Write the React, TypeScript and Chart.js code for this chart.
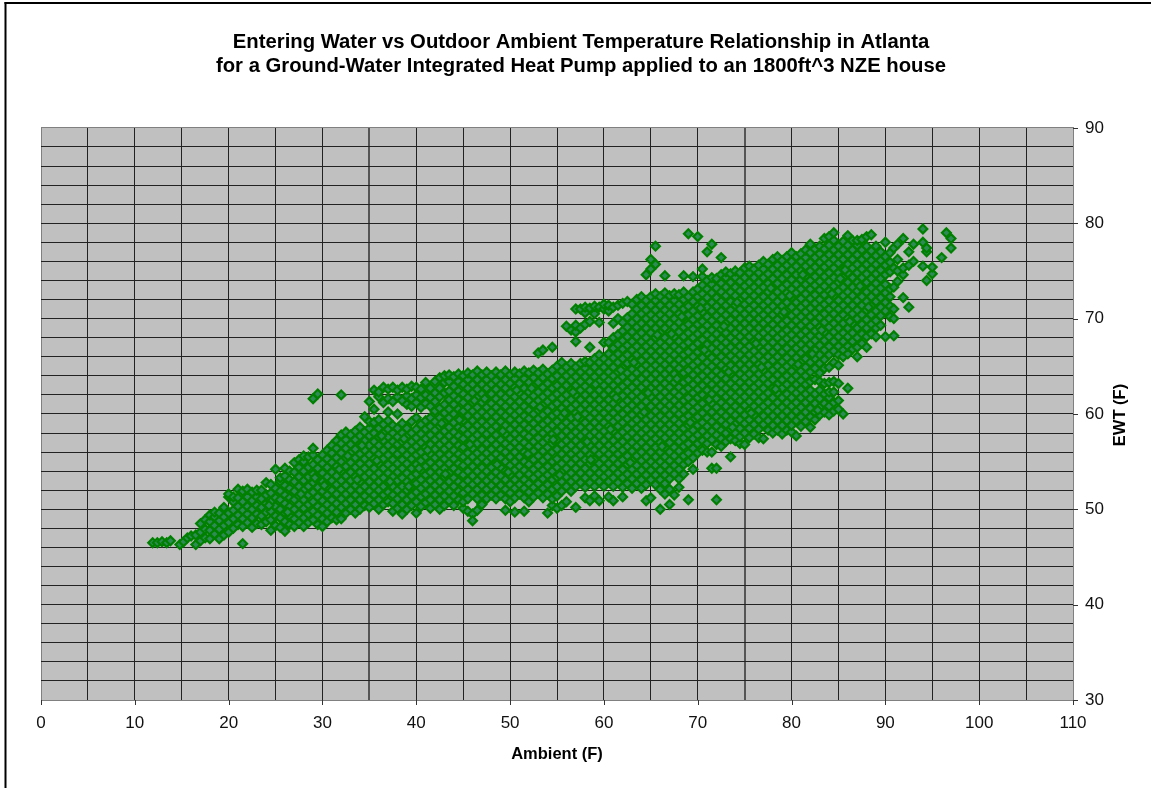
import React, { useEffect, useRef } from "react";
import { Chart, registerables } from "chart.js";

Chart.register(...registerables);

const titleLines = [
  "Entering Water vs Outdoor Ambient Temperature Relationship in Atlanta",
  "for a Ground-Water Integrated Heat Pump applied to an 1800ft^3 NZE house",
];
const xAxisLabel = "Ambient (F)";
const yAxisLabel = "EWT (F)";

// Each row: ambient value, then the EWT values read at that ambient.
const coldRows = [
  [11.9, 46.5], [12.4, 46.5], [12.9, 46.6], [13.4, 46.5], [13.8, 46.7], [14.8, 46.3], [15.2, 46.6], [15.6, 47], [16, 47.2],
  [16.5, 46.3, 47.3], [17, 46.7, 47.6, 48.5], [17.5, 47, 47.9, 48.9], [18, 46.9, 47.8, 48.7, 49.4],
  [18.5, 47.4, 48.3, 49.2, 49.7], [19, 46.9, 47.9, 48.8, 49.6], [19.5, 47.3, 48.3, 49.2, 50.2],
  [20, 47.6, 48.6, 49.6, 51.3, 51.6], [20.5, 48, 49, 49.9, 50.8, 51.3], [21, 48.4, 49.4, 50.3, 51.2, 52.1],
  [21.5, 46.4, 48.2, 49, 49.9, 50.8, 51.9], [22, 48.6, 49.5, 50.3, 51.3, 52.1], [22.5, 48.1, 49.1, 50, 50.9, 51.8],
  [23, 48.5, 49.5, 50.4, 51.3, 52], [23.5, 48.4, 49.3, 50.2, 51.1, 52], [24, 48.7, 49.7, 50.6, 51.5, 52.8],
  [24.5, 47.8, 48.9, 49.8, 50.8, 51.7, 52.6], [25, 48.3, 49.3, 50.3, 51.2, 52.2, 54.2],
  [25.5, 48.1, 49.1, 50, 51, 51.9, 52.9, 53.3], [26, 47.7, 48.7, 49.6, 50.6, 51.5, 52.5, 53.5, 54.3],
  [26.5, 48.4, 49.3, 50.3, 51.2, 52.2, 53.1, 54], [27, 48.2, 49, 50, 51, 51.9, 52.9, 53.9, 54.9],
  [27.5, 48.6, 49.5, 50.5, 51.4, 52.4, 53.4, 54.4, 55.2], [28, 48.2, 49.1, 50.1, 51, 52, 53, 54, 55, 55.6],
  [28.5, 48.6, 49.5, 50.5, 51.5, 52.4, 53.4, 54.4, 55.5], [29, 48.9, 49.8, 50.8, 51.8, 52.8, 53.7, 54.7, 55.7, 56.4, 61.6],
  [29.5, 48.4, 49.4, 50.3, 51.3, 52.3, 53.3, 54.3, 55.2, 62.1], [30, 48.2, 49, 50, 50.9, 51.9, 52.9, 53.8, 54.8, 55.7],
  [30.5, 48.7, 49.6, 50.5, 51.5, 52.4, 53.4, 54.4, 55.3, 56.2], [31, 49.1, 50.1, 51, 52, 53, 53.9, 54.9, 55.9, 56.7],
  [31.5, 48.9, 49.7, 50.6, 51.6, 52.6, 53.5, 54.5, 55.4, 56.4, 57.2], [32, 49, 50.2, 51.1, 52.1, 53, 54, 55, 55.9, 56.9, 57.8, 62],
  [32.5, 49.6, 50.6, 51.6, 52.5, 53.5, 54.5, 55.4, 56.4, 57.3, 58.1], [33, 50, 51, 52, 53, 53.9, 54.9, 55.9, 56.8, 57.8],
  [33.5, 49.6, 50.5, 51.5, 52.5, 53.4, 54.4, 55.4, 56.3, 57.3, 58.2], [34, 50, 51, 52, 52.9, 53.9, 54.8, 55.8, 56.8, 57.7, 58.6],
  [34.5, 50.4, 51.4, 52.4, 53.4, 54.3, 55.3, 56.2, 57.2, 58.1, 59.7], [35, 50.2, 51, 51.9, 52.9, 53.8, 54.8, 55.7, 56.7, 57.7, 58.5, 59.2, 61.3],
];

const coolRows = [
  [35.5, 50.6, 51.5, 52.4, 53.4, 54.3, 55.3, 56.2, 57.1, 58, 59.1, 60.5, 62.5], [36, 50, 51, 52, 52.9, 53.8, 54.8, 55.8, 56.7, 57.6, 58.5, 59.4, 61.8, 62.3],
  [36.5, 50.5, 51.5, 52.4, 53.3, 54.3, 55.3, 56.2, 57.2, 58, 58.9, 61.2, 62.8], [37, 50.8, 51.8, 52.8, 53.8, 54.7, 55.7, 56.7, 57.6, 58.4, 59.3, 60.2, 61.6, 62.6],
  [37.5, 49.8, 50.6, 51.5, 52.4, 53.4, 54.3, 55.2, 56.2, 57.1, 58, 58.8, 61.3, 62.8], [38, 50.1, 51.1, 52, 53, 53.9, 54.8, 55.8, 56.8, 57.6, 58.5, 60, 61.8, 62.5],
  [38.5, 49.5, 50.5, 51.5, 52.4, 53.3, 54.3, 55.2, 56.2, 57.1, 58, 59, 61.4, 62.8], [39, 50, 51, 52, 52.9, 53.8, 54.8, 55.7, 56.7, 57.6, 58.5, 61, 61.9, 62.6],
  [39.5, 50.4, 51.4, 52.4, 53.4, 54.3, 55.3, 56.2, 57.1, 58, 59.2, 60.8, 61.6, 62.9], [40, 49.6, 50.8, 51.8, 52.7, 53.7, 54.7, 55.7, 56.6, 57.5, 58.4, 59.6, 61.2, 62, 62.8],
  [40.5, 50.3, 51.3, 52.2, 53.1, 54.1, 55.1, 56, 57, 57.9, 58.9, 60.7, 61.7, 62.6], [41, 50.7, 51.6, 52.6, 53.6, 54.5, 55.5, 56.5, 57.4, 58.4, 59.3, 61.1, 62, 63.3],
  [41.5, 50.1, 51, 52, 53, 53.9, 54.9, 55.8, 56.8, 57.8, 58.7, 59.6, 60.8, 61.7, 62.7], [42, 50.5, 51.5, 52.5, 53.4, 54.4, 55.4, 56.3, 57.3, 58.3, 59.2, 60.3, 61.3, 62.2, 63.4],
  [42.5, 50, 51, 52, 52.9, 53.9, 54.8, 55.8, 56.8, 57.7, 58.7, 59.6, 60.6, 61.8, 62.7, 63.8], [43, 50.4, 51.4, 52.4, 53.4, 54.3, 55.3, 56.3, 57.2, 58.2, 59.1, 60.1, 61, 62.2, 63.3, 64],
  [43.5, 50.9, 51.9, 52.9, 53.8, 54.8, 55.7, 56.7, 57.7, 58.6, 59.6, 60.5, 61.5, 62.4, 63.4, 64.1], [44, 50.4, 51.4, 52.4, 53.3, 54.3, 55.3, 56.2, 57.2, 58.1, 59.1, 60, 61, 61.9, 62.9, 63.9],
  [44.5, 51, 51.9, 52.9, 53.9, 54.8, 55.8, 56.7, 57.7, 58.6, 59.6, 60.5, 61.5, 62.4, 63.4, 64.2], [45, 50.1, 50.8, 51.7, 52.6, 53.6, 54.6, 55.5, 56.5, 57.4, 58.4, 59.3, 60.3, 61.2, 62.1, 63.1, 64],
  [45.5, 49.8, 51.1, 52.1, 53, 54, 55, 55.9, 56.9, 57.9, 58.8, 59.8, 60.7, 61.7, 62.7, 63.6, 64.3], [46, 49.5, 48.8, 51.6, 52.6, 53.5, 54.5, 55.5, 56.4, 57.4, 58.3, 59.3, 60.3, 61.2, 62.2, 63.1, 64.1],
  [46.5, 49.9, 51.1, 52.1, 53, 54, 55, 55.9, 56.9, 57.8, 58.8, 59.8, 60.7, 61.7, 62.6, 63.6, 64.5], [47, 50.5, 51.5, 52.5, 53.5, 54.4, 55.4, 56.3, 57.3, 58.3, 59.2, 60.2, 61.2, 62.1, 63.1, 64.1],
  [47.5, 51.1, 52.1, 53, 54, 55, 55.9, 56.9, 57.9, 58.8, 59.8, 60.7, 61.7, 62.7, 63.6, 64.4], [48, 51.5, 52.5, 53.4, 54.4, 55.4, 56.3, 57.3, 58.3, 59.2, 60.2, 61.1, 62.1, 63.1, 64],
  [48.5, 51.1, 52, 53, 53.9, 54.9, 55.8, 56.8, 57.8, 58.7, 59.7, 60.7, 61.6, 62.6, 63.5, 64.4], [49, 51.5, 52.5, 53.5, 54.4, 55.4, 56.3, 57.3, 58.3, 59.2, 60.2, 61.2, 62.1, 63.1, 64.1],
  [49.5, 49.9, 51.1, 52.1, 53.1, 54, 55, 56, 56.9, 57.9, 58.8, 59.8, 60.8, 61.7, 62.7, 63.6, 64.5], [50, 50.8, 51.7, 52.6, 53.6, 54.6, 55.5, 56.5, 57.4, 58.4, 59.4, 60.3, 61.3, 62.2, 63.2, 64.1],
  [50.5, 49.7, 51.2, 52.2, 53.1, 54.1, 55, 56, 57, 57.9, 58.9, 59.9, 60.8, 61.8, 62.8, 63.7, 64.4], [51, 51.6, 52.6, 53.6, 54.5, 55.5, 56.5, 57.4, 58.4, 59.4, 60.3, 61.3, 62.2, 63.2, 64.2],
  [51.5, 49.8, 51.2, 52.2, 53.1, 54.1, 55, 56, 57, 57.9, 58.9, 59.8, 60.8, 61.8, 62.7, 63.7, 64.5], [52, 50.8, 51.8, 52.7, 53.7, 54.7, 55.6, 56.6, 57.6, 58.5, 59.5, 60.4, 61.4, 62.3, 63.3, 64.3],
  [52.5, 51.3, 52.3, 53.3, 54.2, 55.2, 56.1, 57.1, 58.1, 59, 60, 61, 61.9, 62.9, 63.8, 64.6], [53, 51.7, 52.7, 53.7, 54.6, 55.6, 56.6, 57.5, 58.5, 59.5, 60.4, 61.4, 62.3, 63.3, 64.3, 66.4],
  [53.5, 51.2, 52.2, 53.2, 54.1, 55.1, 56.1, 57, 58, 58.9, 59.9, 60.9, 61.8, 62.8, 63.8, 64.7, 66.7], [54, 49.6, 51.6, 52.6, 53.6, 54.5, 55.5, 56.5, 57.4, 58.4, 59.3, 60.3, 61.3, 62.2, 63.2, 64.2],
  [54.5, 50.4, 51.1, 52.1, 53.1, 54, 55, 56, 56.9, 57.9, 58.8, 59.8, 60.8, 61.7, 62.7, 63.7, 64.6, 67], [55, 50.1, 51.4, 52.4, 53.4, 54.4, 55.3, 56.3, 57.3, 58.2, 59.2, 60.1, 61.1, 62.1, 63, 64, 65],
];

const mildRows = [
  [55.5, 50.4, 51.9, 52.9, 53.9, 54.8, 55.8, 56.8, 57.7, 58.7, 59.7, 60.6, 61.6, 62.5, 63.5, 64.5, 65.4], [56, 50.8, 52.4, 53.4, 54.3, 55.3, 56.3, 57.2, 58.2, 59.1, 60.1, 61.1, 62, 63, 64, 64.9, 69.2],
  [56.5, 51.9, 52.9, 53.8, 54.8, 55.8, 56.7, 57.7, 58.7, 59.6, 60.6, 61.5, 62.5, 63.5, 64.4, 65.3, 68.8], [57, 50.2, 52.4, 53.3, 54.3, 55.3, 56.2, 57.2, 58.1, 59.1, 60.1, 61, 62, 63, 63.9, 64.9, 67.6, 68.6, 69.3, 71],
  [57.5, 52.8, 53.8, 54.8, 55.7, 56.7, 57.7, 58.6, 59.6, 60.5, 61.5, 62.5, 63.4, 64.4, 65.3, 69, 71], [58, 51.2, 52.3, 53.3, 54.3, 55.2, 56.2, 57.2, 58.1, 59.1, 60, 61, 62, 62.9, 63.9, 64.8, 65.5, 69.4, 70.6, 71.2],
  [58.5, 50.9, 52.8, 53.8, 54.8, 55.7, 56.7, 57.7, 58.6, 59.6, 60.5, 61.5, 62.5, 63.4, 64.4, 65.4, 67, 69.7, 71.1], [59, 51.4, 52.4, 53.3, 54.3, 55.2, 56.2, 57.2, 58.1, 59.1, 60.1, 61, 62, 63, 63.9, 64.9, 65.8, 70.5, 71.3],
  [59.5, 50.9, 52.9, 53.8, 54.8, 55.8, 56.7, 57.7, 58.6, 59.6, 60.6, 61.5, 62.5, 63.4, 64.4, 65.4, 66.2, 69.6, 71.2], [60, 52.4, 53.4, 54.3, 55.3, 56.2, 57.2, 58.2, 59.1, 60.1, 61, 62, 63, 63.9, 64.9, 65.8, 67.5, 71, 71.5],
  [60.5, 51.3, 52.9, 53.8, 54.8, 55.8, 56.7, 57.7, 58.7, 59.6, 60.6, 61.5, 62.5, 63.5, 64.4, 65.4, 66.3, 67.5, 70.8, 71.4], [61, 50.9, 52.4, 53.3, 54.3, 55.3, 56.3, 57.2, 58.2, 59.2, 60.1, 61.1, 62, 63, 64, 64.9, 65.9, 66.9, 68, 69.5, 71.2],
  [61.5, 52.8, 53.8, 54.8, 55.8, 56.7, 57.7, 58.7, 59.6, 60.6, 61.5, 62.5, 63.5, 64.4, 65.4, 66.3, 67.3, 68.3, 70, 71.4], [62, 51.3, 52.3, 53.3, 54.2, 55.2, 56.2, 57.1, 58.1, 59.1, 60, 61, 61.9, 62.9, 63.9, 64.8, 65.8, 66.8, 67.7, 68.7, 69.6, 71.6],
  [62.5, 52.7, 53.7, 54.7, 55.6, 56.6, 57.6, 58.5, 59.5, 60.5, 61.4, 62.4, 63.3, 64.3, 65.3, 66.2, 67.2, 68.1, 69.1, 70.1, 71.8], [63, 52.2, 53.2, 54.2, 55.1, 56.1, 57, 58, 59, 59.9, 60.9, 61.9, 62.8, 63.8, 64.7, 65.7, 66.7, 67.6, 68.6, 69.6, 70.5, 71.5],
  [63.5, 52.7, 53.7, 54.6, 55.6, 56.6, 57.5, 58.5, 59.4, 60.4, 61.4, 62.3, 63.3, 64.3, 65.2, 66.2, 67.1, 68.1, 69.1, 70, 71, 72], [64, 52.2, 53.1, 54.1, 55.1, 56, 57, 58, 58.9, 59.9, 60.8, 61.8, 62.8, 63.7, 64.7, 65.6, 66.6, 67.6, 68.5, 69.5, 70.5, 71.4, 72.3],
  [64.5, 50.9, 52.6, 53.6, 54.6, 55.5, 56.5, 57.5, 58.4, 59.4, 60.3, 61.3, 62.3, 63.2, 64.2, 65.1, 66.1, 67.1, 68, 69, 70, 70.9, 71.9, 74.6], [65, 51.2, 53.1, 54.1, 55, 56, 57, 57.9, 58.9, 59.8, 60.8, 61.8, 62.7, 63.7, 64.7, 65.6, 66.6, 67.5, 68.5, 69.5, 70.4, 71.4, 72.3, 75.2, 76.2],
  [65.5, 52.6, 53.6, 54.6, 55.5, 56.5, 57.4, 58.4, 59.4, 60.3, 61.3, 62.3, 63.2, 64.2, 65.1, 66.1, 67.1, 68, 69, 70, 70.9, 71.9, 72.6, 75.7, 77.6], [66, 50, 52.1, 53.1, 54.1, 55, 56, 57, 57.9, 58.9, 59.8, 60.8, 61.8, 62.7, 63.7, 64.7, 65.6, 66.6, 67.5, 68.5, 69.5, 70.4, 71.4, 72.3],
  [66.5, 51.6, 52.7, 53.6, 54.6, 55.5, 56.5, 57.5, 58.4, 59.4, 60.4, 61.3, 62.3, 63.2, 64.2, 65.2, 66.1, 67.1, 68, 69, 70, 70.9, 71.9, 72.7, 74.5], [67, 50.5, 52.1, 53.2, 54.1, 55.1, 56, 57, 58, 58.9, 59.9, 60.9, 61.8, 62.8, 63.7, 64.7, 65.7, 66.6, 67.6, 68.6, 69.5, 70.5, 71.4, 72.4],
  [67.5, 51.5, 53.7, 54.6, 55.6, 56.5, 57.5, 58.5, 59.4, 60.4, 61.4, 62.3, 63.3, 64.2, 65.2, 66.2, 67.1, 68.1, 69.1, 70, 71, 71.9, 72.6], [68, 52.3, 53.2, 54.2, 55.1, 56.1, 57.1, 58, 59, 60, 60.9, 61.9, 62.8, 63.8, 64.8, 65.7, 66.7, 67.6, 68.6, 69.6, 70.5, 71.5, 72.5],
  [68.5, 53.7, 54.7, 55.6, 56.6, 57.5, 58.5, 59.5, 60.4, 61.4, 62.4, 63.3, 64.3, 65.3, 66.2, 67.2, 68.1, 69.1, 70.1, 71, 72, 72.8, 74.5], [69, 51, 55, 55.9, 56.9, 57.9, 58.8, 59.8, 60.8, 61.7, 62.7, 63.6, 64.6, 65.6, 66.5, 67.5, 68.5, 69.4, 70.4, 71.3, 72.3, 78.9],
  [69.5, 54.2, 55.4, 56.4, 57.4, 58.3, 59.3, 60.3, 61.2, 62.2, 63.1, 64.1, 65.1, 66, 67, 68, 68.9, 69.9, 70.8, 71.8, 72.8, 74.4], [70, 55.9, 56.9, 57.8, 58.8, 59.7, 60.7, 61.7, 62.6, 63.6, 64.6, 65.5, 66.5, 67.4, 68.4, 69.4, 70.3, 71.3, 72.3, 73.1, 78.6],
  [70.5, 56.2, 57.2, 58.2, 59.1, 60.1, 61.1, 62, 63, 64, 64.9, 65.9, 66.8, 67.8, 68.8, 69.7, 70.7, 71.7, 72.6, 73.5, 74.4, 75.2], [71, 56, 56.9, 57.7, 58.7, 59.6, 60.6, 61.6, 62.5, 63.5, 64.5, 65.4, 66.4, 67.3, 68.3, 69.3, 70.2, 71.2, 72.2, 73.1, 74, 77],
];

const warmRows = [
  [71.5, 54.3, 56, 57.3, 58.2, 59.2, 60.2, 61.1, 62.1, 63.1, 64, 65, 65.9, 66.9, 67.9, 68.8, 69.8, 70.8, 71.7, 72.7, 73.6, 74.3, 77.8], [72, 51, 54.3, 56.8, 57.8, 58.7, 59.7, 60.7, 61.6, 62.6, 63.6, 64.5, 65.5, 66.5, 67.4, 68.4, 69.3, 70.3, 71.3, 72.2, 73.2, 74.2],
  [72.5, 56.6, 57.4, 58.3, 59.3, 60.2, 61.2, 62.2, 63.1, 64.1, 65.1, 66, 67, 67.9, 68.9, 69.9, 70.8, 71.8, 72.8, 73.7, 74.6, 76.4], [73, 57.1, 58, 58.9, 59.8, 60.8, 61.8, 62.7, 63.7, 64.7, 65.6, 66.6, 67.5, 68.5, 69.5, 70.4, 71.4, 72.4, 73.3, 74.3, 74.9],
  [73.5, 55.5, 57.4, 58.4, 59.3, 60.3, 61.3, 62.2, 63.2, 64.2, 65.1, 66.1, 67, 68, 69, 69.9, 70.9, 71.8, 72.8, 73.8, 74.7], [74, 57.2, 58, 58.9, 59.9, 60.8, 61.8, 62.8, 63.7, 64.7, 65.7, 66.6, 67.6, 68.5, 69.5, 70.5, 71.4, 72.4, 73.3, 74.3, 75],
  [74.5, 56.9, 57.6, 58.5, 59.4, 60.4, 61.4, 62.3, 63.3, 64.2, 65.2, 66.2, 67.1, 68.1, 69, 70, 71, 71.9, 72.9, 73.9, 74.8], [75, 56.8, 58, 59, 59.9, 60.9, 61.8, 62.8, 63.8, 64.7, 65.7, 66.7, 67.6, 68.6, 69.5, 70.5, 71.5, 72.4, 73.4, 74.3, 75.3],
  [75.5, 57.5, 58.5, 59.4, 60.4, 61.3, 62.3, 63.3, 64.2, 65.2, 66.2, 67.1, 68.1, 69, 70, 71, 71.9, 72.9, 73.8, 74.8, 75.5], [76, 57.9, 58.9, 59.9, 60.8, 61.8, 62.8, 63.7, 64.7, 65.7, 66.6, 67.6, 68.5, 69.5, 70.5, 71.4, 72.4, 73.3, 74.3, 75.2],
  [76.5, 57.5, 58.4, 59.4, 60.4, 61.3, 62.3, 63.2, 64.2, 65.2, 66.1, 67.1, 68.1, 69, 70, 70.9, 71.9, 72.9, 73.8, 74.8, 75.6], [77, 57.4, 58.9, 59.8, 60.8, 61.8, 62.7, 63.7, 64.6, 65.6, 66.6, 67.5, 68.5, 69.5, 70.4, 71.4, 72.3, 73.3, 74.3, 75.2, 76],
  [77.5, 58.3, 59.3, 60.3, 61.2, 62.2, 63.2, 64.1, 65.1, 66, 67, 68, 68.9, 69.9, 70.9, 71.8, 72.8, 73.7, 74.7, 75.7], [78, 58, 58.8, 59.8, 60.7, 61.7, 62.7, 63.6, 64.6, 65.6, 66.5, 67.5, 68.5, 69.4, 70.4, 71.3, 72.3, 73.3, 74.2, 75.2, 76.2],
  [78.5, 58.3, 59.3, 60.3, 61.2, 62.2, 63.1, 64.1, 65, 66, 67, 68, 68.9, 69.9, 70.8, 71.8, 72.8, 73.7, 74.7, 75.6, 76.5], [79, 57.9, 58.8, 59.8, 60.7, 61.7, 62.7, 63.6, 64.6, 65.5, 66.5, 67.5, 68.4, 69.4, 70.4, 71.3, 72.3, 73.2, 74.2, 75.2, 76.1],
  [79.5, 58.3, 59.3, 60.3, 61.2, 62.1, 63.1, 64, 65, 65.9, 66.9, 67.9, 68.8, 69.8, 70.8, 71.7, 72.7, 73.6, 74.6, 75.6, 76.5], [80, 58.1, 58.8, 59.8, 60.8, 61.7, 62.6, 63.6, 64.5, 65.4, 66.4, 67.4, 68.3, 69.3, 70.3, 71.2, 72.2, 73.1, 74.1, 75.1, 76, 76.9],
  [80.5, 57.7, 59.3, 60.3, 61.2, 62.2, 63.1, 64, 65, 65.9, 66.9, 67.8, 68.8, 69.8, 70.7, 71.7, 72.7, 73.6, 74.6, 75.5, 76.5], [81, 58.7, 59.7, 60.7, 61.7, 62.6, 63.5, 64.5, 65.4, 66.4, 67.3, 68.3, 69.3, 70.2, 71.2, 72.1, 73.1, 74.1, 75, 76, 76.8],
  [81.5, 59.2, 60.2, 61.2, 62.1, 63.1, 64, 64.9, 65.8, 66.8, 67.8, 68.7, 69.7, 70.7, 71.6, 72.6, 73.6, 74.5, 75.5, 76.4, 77.2], [82, 58.6, 59.7, 60.6, 61.6, 62.5, 63.4, 64.4, 65.4, 66.3, 67.3, 68.2, 69.2, 70.2, 71.1, 72.1, 73.1, 74, 75, 75.9, 76.9, 77.8],
  [82.5, 59.4, 60.2, 61.1, 62.1, 63.6, 64.8, 65.8, 66.7, 67.7, 68.7, 69.6, 70.6, 71.6, 72.5, 73.5, 74.4, 75.4, 76.4, 77.3], [83, 59.9, 60.7, 61.6, 62.5, 63.4, 64.3, 65.3, 66.2, 67.2, 68.2, 69.1, 70.1, 71.1, 72, 73, 73.9, 74.9, 75.9, 76.8, 77.6],
  [83.5, 60.2, 61.1, 62.1, 63.2, 64.8, 65.7, 66.7, 67.7, 68.6, 69.6, 70.5, 71.5, 72.5, 73.4, 74.4, 75.4, 76.3, 77.3, 78.4], [84, 59.9, 60.8, 61.7, 62.3, 63.3, 64.9, 66.2, 67.1, 68.1, 69.1, 70, 71, 71.9, 72.9, 73.9, 74.8, 75.8, 76.7, 77.7, 78.6],
  [84.5, 60.3, 61.2, 62.3, 63.4, 65.4, 66.6, 67.6, 68.6, 69.5, 70.5, 71.4, 72.4, 73.4, 74.3, 75.3, 76.2, 77.2, 78.2, 79], [85, 60.5, 61.4, 63.2, 65.1, 66.2, 67.1, 68.1, 69, 70, 71, 71.9, 72.9, 73.8, 74.8, 75.8, 76.7, 77.6],
  [85.5, 60, 66, 66.7, 67.6, 68.5, 69.5, 70.4, 71.4, 72.4, 73.3, 74.3, 75.2, 76.2, 77.2, 78.1], [86, 62.7, 66.3, 67.1, 68.1, 69, 70, 70.9, 71.9, 72.8, 73.8, 74.8, 75.7, 76.7, 77.7, 78.7],
  [86.5, 66.8, 67.6, 68.5, 69.5, 70.5, 71.4, 72.4, 73.3, 74.3, 75.3, 76.2, 77.2, 78.2], [87, 66, 67, 68, 69, 70, 70.9, 71.9, 72.9, 73.8, 74.8, 75.7, 76.7, 77.7, 78.2],
  [87.5, 67.4, 68.4, 69.4, 70.4, 71.4, 72.3, 73.3, 74.3, 75.2, 76.2, 77.2, 78.3], [88, 67, 68.1, 69, 69.9, 70.9, 71.8, 72.8, 73.8, 74.7, 75.7, 76.6, 77.6, 78.6],
  [88.5, 68.4, 69.4, 70.4, 71.3, 72.3, 73.2, 74.2, 75.2, 76.1, 77.1, 78.8], [89, 68.1, 69, 69.8, 70.8, 71.8, 72.8, 73.7, 74.7, 75.7, 76.6, 77.6],
  [89.5, 69.3, 70.3, 71.2, 72.2, 73.2, 74.2, 75.1, 76.1, 77],
  [90, 68.1, 70.8, 71.7, 72.7, 73.6, 74.6, 75.6, 76.5, 78], [90.5, 70.2, 71.3, 72.3, 73.1, 74.9, 75.9, 76.9],
  [90.9, 68.2, 70, 71, 73.3, 75.3, 77.4], [91.3, 73.9, 75, 76.2, 77.8], [91.9, 72.2, 74.6, 75.3, 78.4],
  [92.5, 71.2, 75.6, 77], [93, 76, 77.8], [94, 75.5, 78, 79.4], [94.4, 74, 77, 77.4], [95, 74.7, 75.4], [96, 76.4], [96.5, 79], [97, 77.4, 78.4],
];

// Loose points read on top of the dense mass.
const looseAmbient = [24.3, 27.7, 30.2, 31.8, 33.7, 34.2, 35.8, 37.2, 38.7, 40.3, 41.2, 43.1, 44.6, 45.7, 47.3, 48.6, 49.2, 50.7, 51.9, 53.2, 54.6, 55.3, 56.7, 57.2, 58.6, 59.1, 60.7, 61.3, 62.8, 63.2, 64.3, 65.7, 66.2, 67.8, 68.3, 69.2, 70.7, 71.2, 72.8, 73.3, 74.2, 75.7, 76.2, 77.8, 78.3, 79.2, 80.7, 81.2, 82.8, 83.2, 84.3, 85.7, 86.2, 87.3, 88.2, 26.3, 29.2, 32.7, 36.3, 39.2, 42.7, 46.2, 49.8, 52.3, 55.8, 58.2, 61.8, 64.7, 67.2, 70.3, 73.7, 76.8, 79.8, 82.2, 85.2];
const looseEwt = [50.4, 51.6, 52.5, 54.2, 53.1, 56.7, 55.1, 52.9, 57.4, 54.3, 56.2, 53.7, 59.4, 56.8, 61.6, 54.7, 58.2, 62.5, 55.8, 60.7, 57.3, 53.6, 62.3, 59.7, 55.2, 63.1, 58.4, 61.7, 54.9, 65.4, 60.2, 68.3, 56.6, 63.7, 70.2, 59.1, 66.7, 61.5, 69.2, 64.4, 71.7, 60.1, 67.4, 73.2, 62.6, 70.7, 65.2, 74.6, 60.4, 68.8, 72.6, 75.1, 69.7, 73.4, 71.2, 49.7, 53.3, 55.6, 57.7, 52.4, 59, 61.4, 53.9, 62.7, 60.1, 57.1, 64.6, 62.2, 68.4, 71.1, 58.6, 64.9, 72.4, 66.3, 74.2];

const allRows = [...coldRows, ...coolRows, ...mildRows, ...warmRows];
const rowPoints = allRows.flatMap(([ambient, ...ewts]) => ewts.map((ewt) => ({ x: ambient, y: ewt })));
const loosePoints = looseAmbient.map((a, i) => ({ x: a, y: looseEwt[i] }));
const points = [...rowPoints, ...loosePoints];

const xMin = 0, xMax = 110, xStep = 5, xLabelStep = 10;
const yMin = 30, yMax = 90, yStep = 2, yLabelStep = 10;
const heavyXLines = [35, 75];
const FONT = "'Liberation Sans', Arial, sans-serif";

const frameAndPlot = {
  id: "frameAndPlot",
  beforeDraw(chart: any) {
    const { ctx, chartArea: a } = chart;
    ctx.save();
    ctx.fillStyle = "#fff";
    ctx.fillRect(0, 0, chart.width, chart.height);
    ctx.fillStyle = "#000";
    ctx.fillRect(4.5, 2, 2, chart.height);
    ctx.fillRect(4.5, 2, chart.width, 2);
    ctx.fillStyle = "#C0C0C0";
    ctx.fillRect(a.left, a.top, a.right - a.left, a.bottom - a.top);
    ctx.restore();
  },
  afterDraw(chart: any) {
    const { ctx, chartArea: a, scales } = chart;
    ctx.save();
    ctx.strokeStyle = "#333";
    ctx.lineWidth = 1;
    ctx.beginPath();
    for (let v = xMin; v <= xMax; v += xLabelStep) {
      const p = Math.round(scales.x.getPixelForValue(v)) + 0.5;
      ctx.moveTo(p, a.bottom);
      ctx.lineTo(p, a.bottom + 5);
    }
    for (let v = yMin; v <= yMax; v += yLabelStep) {
      const p = Math.round(scales.y.getPixelForValue(v)) + 0.5;
      ctx.moveTo(a.right, p);
      ctx.lineTo(a.right + 5, p);
    }
    ctx.stroke();
    // The right-hand axis title reads upward in the reference.
    ctx.translate(1120, 415);
    ctx.rotate(-Math.PI / 2);
    ctx.fillStyle = "#000";
    ctx.font = `bold 16.5px ${FONT}`;
    ctx.textAlign = "center";
    ctx.textBaseline = "middle";
    ctx.fillText(yAxisLabel, 0, 0);
    ctx.restore();
  },
};

export default function App() {
  const ref = useRef<HTMLCanvasElement>(null);
  useEffect(() => {
    document.body.style.margin = "0";
    document.body.style.overflow = "hidden";
    const chart = new Chart(ref.current!, {
      type: "scatter",
      data: {
        datasets: [
          {
            label: "EWT",
            data: points,
            pointStyle: "rectRot",
            pointRadius: 4.4,
            pointBorderWidth: 2.2,
            pointBackgroundColor: "#2E8B57",
            pointBorderColor: "#008000",
            showLine: false,
          },
        ],
      },
      options: {
        animation: false,
        responsive: false,
        layout: { padding: { left: 41, right: 30, top: 30, bottom: 24 } },
        plugins: {
          legend: { display: false },
          tooltip: { enabled: false },
          title: {
            display: true,
            text: titleLines,
            color: "#000",
            font: { family: FONT, size: 20.3, weight: "bold", lineHeight: 1.18 },
            padding: { top: 0, bottom: 50 },
          },
        },
        scales: {
          x: {
            type: "linear",
            min: xMin,
            max: xMax,
            afterFit(s: any) { s.height = 64; },
            border: { display: true, color: "#808080" },
            grid: {
              drawTicks: false,
              color: (c: any) => (c.tick.value === xMin || c.tick.value === xMax ? "#808080" : heavyXLines.includes(c.tick.value) ? "#555" : "#222"),
              lineWidth: (c: any) => (heavyXLines.includes(c.tick.value) ? 2 : 1),
            },
            ticks: {
              stepSize: xStep,
              maxRotation: 0,
              autoSkip: false,
              padding: 13,
              color: "#111",
              font: { family: FONT, size: 17 },
              callback: (v: any) => (v % xLabelStep === 0 ? String(v) : ""),
            },
            title: {
              display: true,
              text: xAxisLabel,
              color: "#000",
              font: { family: FONT, size: 16.5, weight: "bold" },
              padding: { top: 10, bottom: 0 },
            },
          },
          y: {
            type: "linear",
            position: "right",
            min: yMin,
            max: yMax,
            afterFit(s: any) { s.width = 48; },
            border: { display: true, color: "#808080" },
            grid: {
              drawTicks: false,
              color: (c: any) => (c.tick.value === yMin || c.tick.value === yMax ? "#808080" : "#222"),
            },
            ticks: {
              stepSize: yStep,
              autoSkip: false,
              padding: 12,
              color: "#111",
              font: { family: FONT, size: 17 },
              callback: (v: any) => (v % yLabelStep === 0 ? String(v) : ""),
            },
          },
        },
      },
      plugins: [frameAndPlot],
    } as any);
    return () => chart.destroy();
  }, []);
  return <canvas ref={ref} width={1151} height={788} style={{ display: "block", width: 1151, height: 788 }} />;
}
